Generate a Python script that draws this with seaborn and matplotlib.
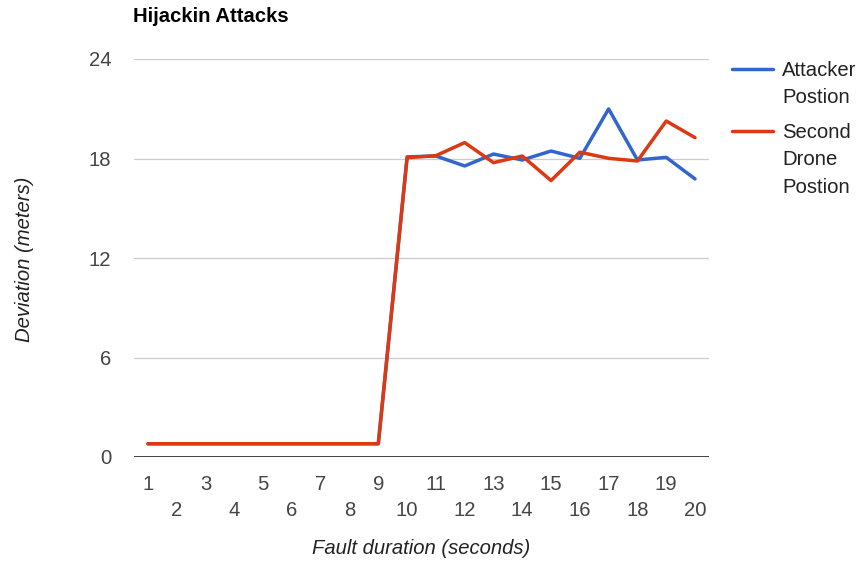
import matplotlib
matplotlib.use("Agg")
import matplotlib.pyplot as plt
from matplotlib.lines import Line2D
import seaborn as sns
import pandas as pd

# Fault duration in seconds
seconds = list(range(1, 21))

# Deviation in meters for each tracked position
attacker_position = [0.8, 0.8, 0.8, 0.8, 0.8, 0.8, 0.8, 0.8, 0.8, 18.1,
                     18.15, 17.55, 18.27, 17.91, 18.45, 18.01, 20.99, 17.91, 18.07, 16.77]
second_drone_position = [0.8, 0.8, 0.8, 0.8, 0.8, 0.8, 0.8, 0.8, 0.8, 18.05,
                         18.17, 18.96, 17.75, 18.15, 16.67, 18.38, 18.01, 17.85, 20.26, 19.26]

series_names = ["Attacker\nPostion", "Second\nDrone\nPostion"]
series_colors = ["#3366CC", "#DC3912"]
y_ticks = [0, 6, 12, 18, 24]

df = pd.concat([
    pd.DataFrame({"second": seconds, "deviation": attacker_position, "series": series_names[0]}),
    pd.DataFrame({"second": seconds, "deviation": second_drone_position, "series": series_names[1]}),
])

sns.set_theme(style="white")
plt.rcParams["font.family"] = ["Liberation Sans", "DejaVu Sans"]

W, H = 861, 563
fig = plt.figure(figsize=(W / 100, H / 100), dpi=100)
ax = fig.add_axes([133.6 / W, 1 - 457 / H, (709.4 - 133.6) / W, (457 - 59) / H])

sns.lineplot(data=df, x="second", y="deviation", hue="series",
             palette=series_colors, linewidth=2.5, legend=False, ax=ax)

ax.set_xlim(0.5, 20.5)
ax.set_ylim(0, 24)

for s in ax.spines.values():
    s.set_visible(False)

# horizontal gridlines and dark baseline
ax.set_yticks(y_ticks)
ax.yaxis.grid(True, color="#cccccc", linewidth=0.9)
ax.xaxis.grid(False)
ax.set_axisbelow(True)
ax.axhline(0, color="#333333", linewidth=1.3, zorder=1.5)

fs = 14.6
ax.set_yticklabels([str(v) for v in y_ticks])
ax.tick_params(axis="y", length=0, pad=16, labelsize=fs, labelcolor="#444444")

odd = [s for s in seconds if s % 2 == 1]
even = [s for s in seconds if s % 2 == 0]
ax.set_xticks(odd)
ax.set_xticklabels([str(v) for v in odd])
ax.set_xticks(even, minor=True)
ax.set_xticklabels([str(v) for v in even], minor=True)
ax.tick_params(axis="x", which="major", length=0, pad=13, labelsize=fs, labelcolor="#444444")
ax.tick_params(axis="x", which="minor", length=0, pad=31.5, labelsize=fs, labelcolor="#444444")

ax.set_xlabel("")
ax.set_ylabel("")
fig.text(421.5 / W, 1 - 549 / H, "Fault duration (seconds)", ha="center", va="center",
         fontsize=fs, style="italic", color="#222222")
fig.text(25 / W, 1 - 259 / H, "Deviation (meters)", ha="center", va="center",
         rotation=90, fontsize=fs, style="italic", color="#222222")

fig.text(133 / W, 1 - 22 / H, "Hijackin Attacks", ha="left", va="baseline",
         fontsize=14.6, fontweight="bold", color="#000000")

# legend on the right
legend_rows = [69, 131]
for name, color, yy in zip(series_names, series_colors, legend_rows):
    fig.add_artist(Line2D([732 / W, 773 / W], [1 - yy / H, 1 - yy / H],
                          color=color, linewidth=2.5, transform=fig.transFigure))
    fig.text(782 / W, 1 - (yy - 8) / H, name, ha="left", va="top",
             fontsize=fs, color="#222222", linespacing=1.56)

fig.savefig("out.png", dpi=100, facecolor="white")
